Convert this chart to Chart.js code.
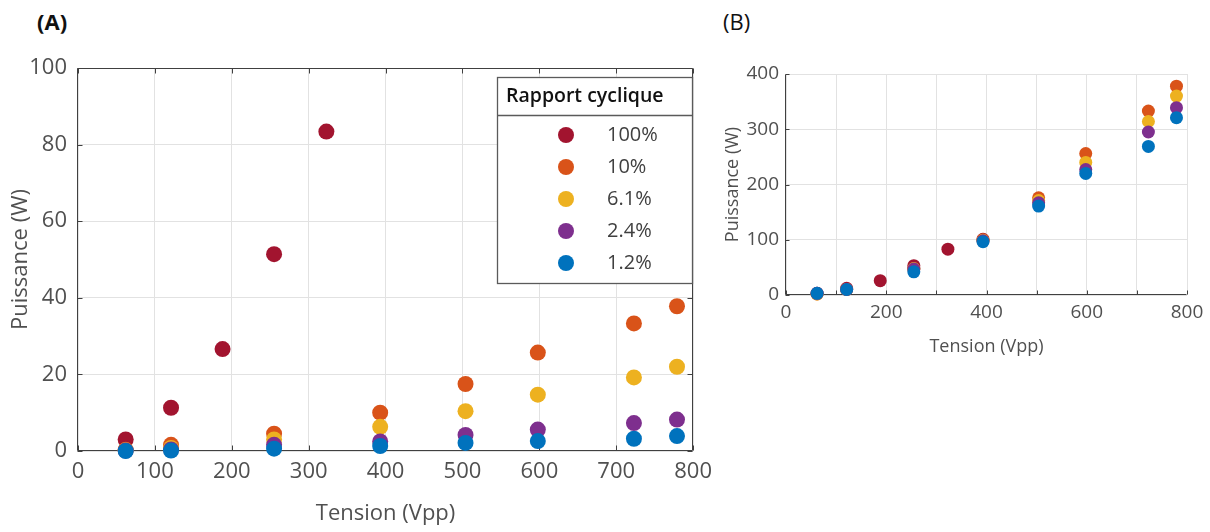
<!DOCTYPE html>
<html><head><meta charset="utf-8">
<script src="https://cdn.jsdelivr.net/npm/chart.js@4.4.1/dist/chart.umd.min.js"></script>
<style>
html,body{margin:0;padding:0;background:#fff;width:1210px;height:532px;overflow:hidden;}
#wrapA{position:absolute;left:0;top:0;width:720px;height:532px;}
#wrapB{position:absolute;left:720px;top:0;width:490px;height:370px;}
.lab{position:absolute;font-family:"Open Sans",sans-serif;font-size:22px;color:#111;line-height:26px;}
</style></head><body>
<div class="lab" style="left:37px;top:8px;font-weight:700">(A)</div>
<div class="lab" style="left:723px;top:8px;">(B)</div>
<div id="wrapA"><canvas id="chartA" width="720" height="532"></canvas></div>
<div id="wrapB"><canvas id="chartB" width="490" height="370"></canvas></div>
<script>
// ---- data ----
const tension = [62, 121, 188, 255, 323, 393, 504, 598, 723, 779];
const labels = ['100%', '10%', '6.1%', '2.4%', '1.2%'];
const colors = ['#A2142F', '#D95319', '#EDB120', '#7E2F8E', '#0072BD'];

// Panel A : Puissance (W)
const a100 = [3.0, 11.3, 26.6, 51.4, 83.4, null, null, null, null, null];
const a10  = [0.3, 1.6, null, 4.5, null, 10.0, 17.5, 25.7, 33.3, 37.8];
const a6   = [0.2, 0.8, null, 3.0, null, 6.3, 10.4, 14.7, 19.2, 22.0];
const a2   = [0.1, 0.4, null, 1.6, null, 2.5, 4.2, 5.6, 7.3, 8.2];
const a1   = [0.0, 0.1, null, 0.6, null, 1.3, 2.1, 2.6, 3.2, 3.9];

// Panel B : Puissance (W)
const b100 = [3, 12, 26, 53, 83, 100.7, null, null, null, null];
const b10  = [2, 10, null, 47, null, 100, 176, 256, 333, 378];
const b6   = [2, 10, null, 48, null, 99, 171, 240, 314, 360];
const b2   = [3, 10, null, 47, null, 98, 167, 227, 295, 339];
const b1   = [3, 10, null, 42, null, 96.5, 161, 220, 269, 321];

const xTicksA = [0, 100, 200, 300, 400, 500, 600, 700, 800];
const yTicksA = [0, 20, 40, 60, 80, 100];
const xTicksB = [0, 200, 400, 600, 800];
const yTicksB = [0, 100, 200, 300, 400];

const FONT = '"Open Sans", "Segoe UI", sans-serif';
const TXT = '#505050';
const GRID = '#e2e2e2';

function pts(arr) {
  const out = [];
  arr.forEach((v, i) => { if (v !== null) out.push({x: tension[i], y: v}); });
  return out;
}
function makeDatasets(series, r) {
  return series.map((s, i) => ({
    label: labels[i],
    data: pts(s),
    backgroundColor: colors[i],
    borderColor: colors[i],
    borderWidth: 0,
    pointRadius: r,
    pointHoverRadius: r,
    clip: false,
    order: series.length - i
  }));
}

const axesPlugin = {
  id: 'axesBox',
  beforeDatasetsDraw(chart, args, o) {
    const {ctx, chartArea: a, scales: {x, y}} = chart;
    const L = Math.round(a.left) - 0.5, R = Math.round(a.right) - 0.5;
    const T = Math.round(a.top) + 0.5, B = Math.round(a.bottom) - 0.5;
    ctx.save();
    ctx.strokeStyle = o.color; ctx.lineWidth = 1;
    ctx.beginPath();
    ctx.moveTo(L, T); ctx.lineTo(L, B); ctx.lineTo(R, B);
    if (o.box) { ctx.lineTo(R, T); ctx.lineTo(L, T); }
    const tl = o.tick;
    x.ticks.forEach(t => {
      const px = Math.round(x.getPixelForValue(t.value)) + 0.5;
      ctx.moveTo(px, B); ctx.lineTo(px, B - tl);
      if (o.box) { ctx.moveTo(px, T); ctx.lineTo(px, T + tl); }
    });
    y.ticks.forEach(t => {
      const py = Math.round(y.getPixelForValue(t.value)) + 0.5;
      ctx.moveTo(L, py); ctx.lineTo(L + tl, py);
      if (o.box) { ctx.moveTo(R, py); ctx.lineTo(R - tl, py); }
    });
    ctx.stroke();
    ctx.restore();
  }
};

const legendPlugin = {
  id: 'boxLegend',
  afterDraw(chart, args, o) {
    if (!o.show) return;
    const ctx = chart.ctx;
    ctx.save();
    ctx.fillStyle = '#fff';
    ctx.fillRect(o.x, o.y, o.w, o.h);
    ctx.strokeStyle = '#5a5a5a'; ctx.lineWidth = 1.3;
    ctx.strokeRect(o.x + 0.5, o.y + 0.5, o.w, o.h);
    ctx.beginPath();
    ctx.moveTo(o.x, o.y + o.titleH + 0.5); ctx.lineTo(o.x + o.w, o.y + o.titleH + 0.5);
    ctx.stroke();
    ctx.fillStyle = '#111';
    ctx.font = '600 19.5px ' + FONT;
    ctx.textBaseline = 'middle'; ctx.textAlign = 'left';
    ctx.fillText(o.title, o.x + 9, o.y + o.titleH / 2);
    ctx.font = '20px ' + FONT;
    chart.data.datasets.forEach((ds, i) => {
      const cy = o.y + o.firstRow + i * o.rowGap;
      ctx.fillStyle = ds.backgroundColor;
      ctx.beginPath(); ctx.arc(o.markerX, cy, 8, 0, Math.PI * 2); ctx.fill();
      ctx.fillStyle = '#404040';
      ctx.fillText(ds.label, o.textX, cy);
    });
    ctx.restore();
  }
};

Chart.register(axesPlugin, legendPlugin);

function ticksFrom(list) {
  return function (scale) {
    scale.ticks = list.map(v => ({value: v}));
  };
}

new Chart(document.getElementById('chartA'), {
  type: 'scatter',
  data: {datasets: makeDatasets([a100, a10, a6, a2, a1], 8)},
  options: {
    responsive: false, animation: false,
    layout: {padding: {top: 68, right: 20, left: 0, bottom: 0}},
    plugins: {
      legend: {display: false}, tooltip: {enabled: false},
      axesBox: {color: '#404040', tick: 5, box: true},
      boxLegend: {show: true, x: 497, y: 77, w: 195, h: 206, titleH: 38, title: 'Rapport cyclique',
                  markerX: 566, textX: 607, firstRow: 58, rowGap: 32}
    },
    scales: {
      x: {
        type: 'linear', min: 0, max: 800,
        afterBuildTicks: ticksFrom(xTicksA),
        ticks: {font: {family: FONT, size: 22}, color: TXT, padding: 8, maxRotation: 0, autoSkip: false},
        grid: {color: GRID, drawTicks: false}, border: {display: false},
        title: {display: true, text: 'Tension (Vpp)', font: {family: FONT, size: 22}, color: TXT, padding: {top: 0, bottom: 5}},
        afterFit(s) { s.height = 81; }
      },
      y: {
        type: 'linear', min: 0, max: 100,
        afterBuildTicks: ticksFrom(yTicksA),
        ticks: {font: {family: FONT, size: 22}, color: TXT, padding: 11},
        grid: {color: GRID, drawTicks: false}, border: {display: false},
        title: {display: true, text: 'Puissance (W)', font: {family: FONT, size: 22}, color: TXT, padding: {top: 8, bottom: 0}},
        afterFit(s) { s.width = 78; }
      }
    }
  }
});

new Chart(document.getElementById('chartB'), {
  type: 'scatter',
  data: {datasets: makeDatasets([b100, b10, b6, b2, b1], 6.5)},
  options: {
    responsive: false, animation: false,
    layout: {padding: {top: 74, right: 23, left: 0, bottom: 0}},
    plugins: {
      legend: {display: false}, tooltip: {enabled: false},
      axesBox: {color: '#404040', tick: 4, box: false},
      boxLegend: {show: false}
    },
    scales: {
      x: {
        type: 'linear', min: 0, max: 800,
        afterBuildTicks: ticksFrom([0, 100, 200, 300, 400, 500, 600, 700, 800]),
        ticks: {font: {family: FONT, size: 19}, color: TXT, padding: 6, maxRotation: 0, autoSkip: false,
                callback: v => xTicksB.includes(v) ? String(v) : ''},
        grid: {color: GRID, drawTicks: false}, border: {display: false},
        title: {display: true, text: 'Tension (Vpp)', font: {family: FONT, size: 18}, color: TXT, padding: {top: 0, bottom: 12}},
        afterFit(s) { s.height = 75; }
      },
      y: {
        type: 'linear', min: 0, max: 400,
        afterBuildTicks: ticksFrom(yTicksB),
        ticks: {font: {family: FONT, size: 19}, color: TXT, padding: 7},
        grid: {color: GRID, drawTicks: false}, border: {display: false},
        title: {display: true, text: 'Puissance (W)', font: {family: FONT, size: 18}, color: TXT, padding: {top: 2, bottom: 0}},
        afterFit(s) { s.width = 66; }
      }
    }
  }
});
</script>
</body></html>
